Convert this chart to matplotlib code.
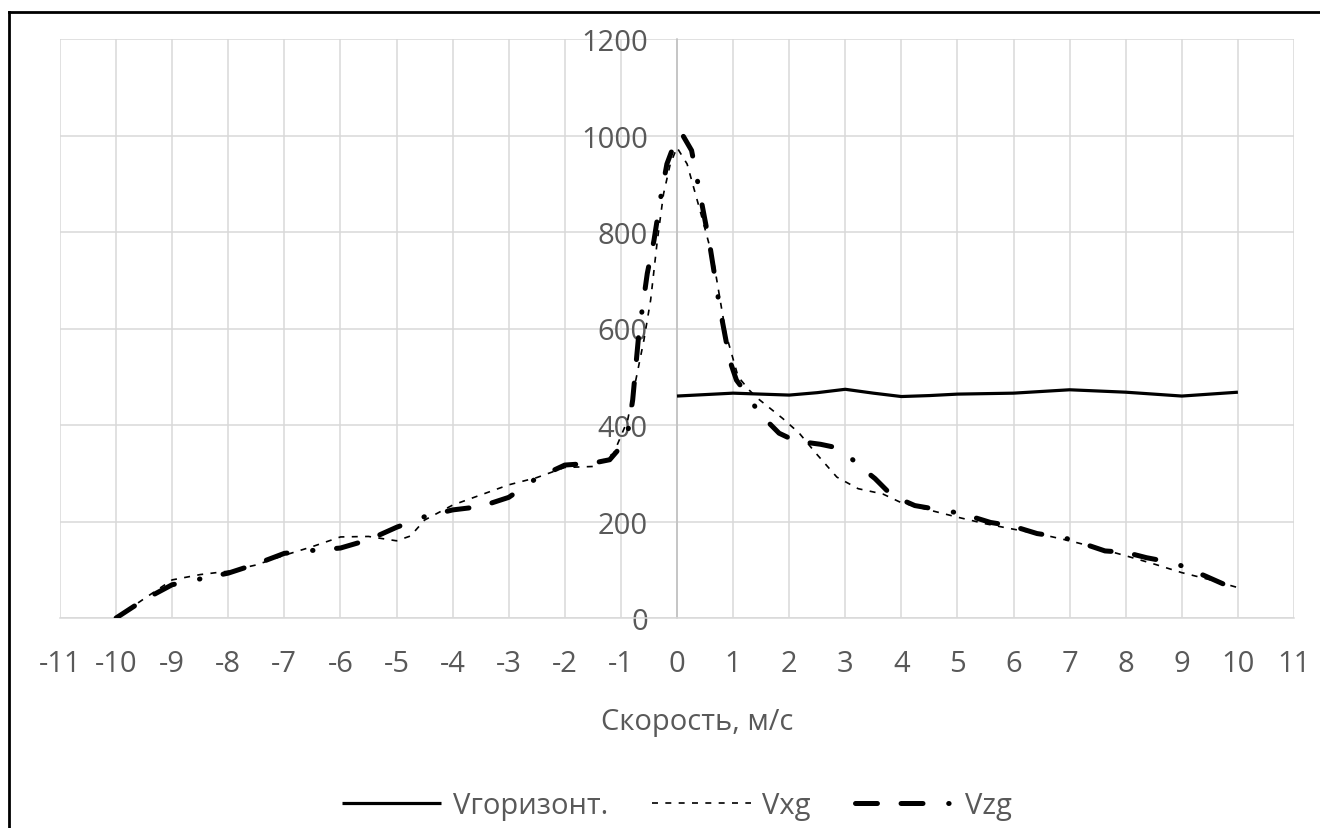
import numpy as np
import matplotlib
matplotlib.use("Agg")
import matplotlib.pyplot as plt
from matplotlib.lines import Line2D

plt.rcParams['font.family'] = ['Open Sans', 'DejaVu Sans']
plt.rcParams['lines.scale_dashes'] = False
plt.rcParams['axes.unicode_minus'] = False

# Vгоризонт.
x_hor = [0, 1, 2, 2.5, 3, 3.5, 4, 4.5, 5, 6, 7, 8, 9, 10]
v_hor = [460, 466, 462, 467, 474, 466, 459, 461, 464, 466, 473, 468, 460, 468]

# Vxg
x_xg = [-10, -9.5, -9, -8.5, -8, -7.5, -7, -6.5, -6, -5.5, -5, -4.75, -4.5, -4,
        -3.5, -3, -2.5, -2, -1.5, -1.13, -0.88, -0.71, -0.59, -0.47, -0.35,
        -0.24, -0.12, 0, 0.18, 0.41, 0.65, 0.87, 1.09, 1.29, 1.43, 1.88, 2.18,
        2.48, 2.85, 3.23, 3.67, 3.98, 4.42, 5, 5.51, 6, 6.47, 7, 7.47, 8, 8.53,
        9, 9.48, 10]
v_xg = [0, 40, 79, 90, 97, 110, 130, 148, 168, 169, 160, 170, 203, 234,
        255, 276, 291, 312, 314, 341, 410, 507, 576, 659, 783,
        879, 941, 975, 941, 845, 741, 590, 500, 472, 456, 414, 383,
        341, 292, 268, 257, 240, 226, 209, 195, 184, 174, 160, 146, 129, 111,
        94, 80, 63]

# Vzg
x_zg = [-10, -9.5, -9, -8.5, -8, -7.5, -7, -6.5, -6, -5.5, -5, -4.5, -4, -3.5,
        -3, -2.5, -2, -1.5, -1.2, -1, -0.88, -0.79, -0.68, -0.53, -0.41, -0.29,
        -0.18, -0.09, 0.09, 0.26, 0.41, 0.59, 0.76, 0.94, 1.06, 1.24, 1.47,
        1.82, 2.11, 2.56, 2.93, 3.23, 3.53, 3.83, 4.24, 4.74, 5.06, 5.59, 5.97,
        6.42, 6.88, 7.17, 7.63, 8.0, 8.37, 8.82, 9.0, 9.42, 9.75, 10]
v_zg = [0, 38, 69, 81, 93, 112, 134, 140, 145, 162, 188, 210, 224, 231,
        250, 290, 317, 321, 328, 355, 383, 452, 590, 714, 783, 872,
        941, 969, 1003, 969, 879, 769, 645, 534, 493, 465, 424,
        383, 367, 360, 351, 317, 289, 254, 233, 223, 217, 198, 191,
        175, 167, 157, 139, 136, 125, 115, 108, 87, 70, 63]

W, H = 1320, 829
fig = plt.figure(figsize=(W / 100, H / 100), dpi=100)
ax = fig.add_axes([60 / W, 1 - 619 / H, 1234 / W, 579 / H])

txt = '#595959'
fs = 21

ax.plot(x_hor, v_hor, color='black', lw=2.3, solid_capstyle='butt', label='Vгоризонт.', zorder=3)
ax.plot(x_xg, v_xg, color='black', lw=1.2, dashes=(4.3, 5.3), label='Vxg', zorder=4)
ax.plot(x_zg, v_zg, color='black', lw=3.6, dashes=(15.8, 17, 15.8, 18.5, 0.3, 17),
        dash_capstyle='round', label='Vzg', zorder=5)

ax.set_xlim(-11, 11)
ax.set_ylim(0, 1200)
ax.set_xticks(np.arange(-11, 12, 1))
ax.set_yticks(np.arange(0, 1201, 200))
ax.grid(True, color='#d9d9d9', lw=1.1, zorder=0)
ax.set_axisbelow(True)

for s in ['top', 'right']:
    ax.spines[s].set_visible(False)
ax.spines['left'].set_position(('data', 0))
ax.spines['left'].set_color('#bfbfbf')
ax.spines['left'].set_linewidth(1.1)
ax.spines['bottom'].set_color('#d9d9d9')
ax.spines['bottom'].set_linewidth(1.1)

ax.tick_params(axis='y', length=0, pad=21, labelsize=fs, labelcolor=txt)
ax.tick_params(axis='x', length=0, pad=22, labelsize=fs, labelcolor=txt)

fig.text(697 / W, 1 - 723 / H, 'Скорость, м/с', ha='center', va='center', fontsize=fs, color=txt)

leg = fig.legend(loc='center', bbox_to_anchor=(677 / W, 1 - 807 / H), ncol=3, frameon=False,
                 fontsize=fs, handlelength=3.4, handletextpad=0.4, columnspacing=1.5)
for t in leg.get_texts():
    t.set_color(txt)

# chart frame (only top and left edges visible in the crop)
fig.add_artist(Line2D([9 / W, 9 / W], [0, 1 - 13 / H], color='black', lw=2))
fig.add_artist(Line2D([9 / W, 1], [1 - 13 / H, 1 - 13 / H], color='black', lw=2))

fig.savefig('out.png', dpi=100)
